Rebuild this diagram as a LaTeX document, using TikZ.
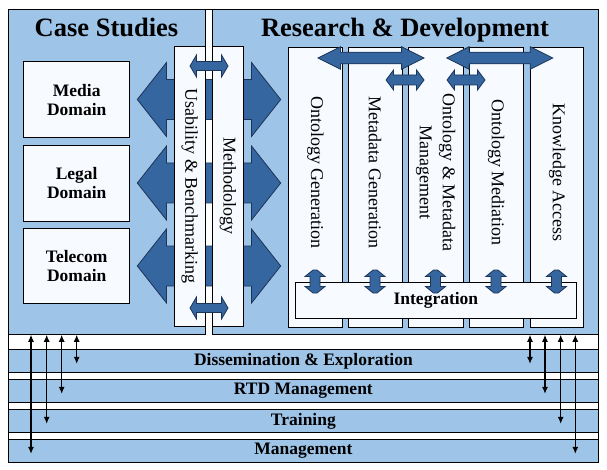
\documentclass[tikz,border=0pt]{standalone}
\usepackage{fontspec}
\setmainfont{Liberation Serif}
\usepackage{xcolor}
\usepackage{tikz}
\usetikzlibrary{positioning,arrows.meta,calc}

\definecolor{panelblue}{RGB}{158,196,232}
\definecolor{arrowblue}{RGB}{53,102,160}
\definecolor{arrowline}{RGB}{28,52,86}
\definecolor{boxwhite}{RGB}{247,250,255}

\begin{document}
\begin{tikzpicture}[x=1pt,y=1pt,yscale=-1,xscale=1,
  panel/.style={draw=black, line width=0.8pt, fill=panelblue, anchor=north west, inner sep=0pt},
  wbox/.style={draw=black, line width=0.8pt, fill=boxwhite, anchor=north west, inner sep=0pt},
  barrow/.style={draw=arrowline, line width=0.8pt, fill=arrowblue, line join=miter},
  link/.style={line width=1.1pt, {Latex[length=7pt,width=6pt]}-{Latex[length=7pt,width=6pt]}},
  title/.style={font=\fontsize{26.5}{30}\selectfont\bfseries, inner sep=0pt},
  lbl/.style={font=\fontsize{17.5}{19}\selectfont\bfseries, align=center},
  vlbl/.style={font=\fontsize{18}{23}\selectfont, align=center, rotate=-90, inner sep=0pt}]
\useasboundingbox (0,0) rectangle (607,470);

%Frame
\draw [line width=0.8pt, fill=white] (8,9) rectangle (598,462) ;

%Panels
\node [panel, minimum width=197, minimum height=325] (cs) at (8,9) {};
\node [panel, minimum width=386, minimum height=325] (rd) at (212,9) {};

%Bands
\node [panel, lbl, minimum width=590, minimum height=23] (dis) at (8,349) {Dissemination \& Exploration};
\node [panel, lbl, minimum width=590, minimum height=23] (rtd) at (8,379) {RTD Management};
\node [panel, lbl, minimum width=590, minimum height=23] (trn) at (8,409) {Training};
\node [panel, lbl, minimum width=590, minimum height=23] (mgt) at (8,439) {Management};

% Titles
\node [title, anchor=base] (cstitle) at (106.5,37) {Case Studies};
\node [title, anchor=base] (rdtitle) at (405,37) {Research \& Development};

%Domain boxes
\node [wbox, lbl, minimum width=106, minimum height=76.3] (media) at (23.3,61) {Media\\Domain};
\node [wbox, lbl, minimum width=106, minimum height=75.7] (legal) at (23.3,145) {Legal\\Domain};
\node [wbox, lbl, minimum width=106, minimum height=75] (telecom) at (23.3,228.3) {Telecom\\Domain};

%Big double arrows
\draw [barrow, shift={(209,99.5)}] (-71.7,0) -- (-42.5,-37) -- (-42.5,-20) -- (42.5,-20) -- (42.5,-37) -- (71.7,0) -- (42.5,37) -- (42.5,20) -- (-42.5,20) -- (-42.5,37) -- cycle ;
\draw [barrow, shift={(209,183)}] (-71.7,0) -- (-42.5,-37) -- (-42.5,-20) -- (42.5,-20) -- (42.5,-37) -- (71.7,0) -- (42.5,37) -- (42.5,20) -- (-42.5,20) -- (-42.5,37) -- cycle ;
\draw [barrow, shift={(209,266)}] (-71.7,0) -- (-42.5,-37) -- (-42.5,-20) -- (42.5,-20) -- (42.5,-37) -- (71.7,0) -- (42.5,37) -- (42.5,20) -- (-42.5,20) -- (-42.5,37) -- cycle ;

%Middle columns
\node [wbox, vlbl, minimum height=30.7, minimum width=279.3, anchor=center] (usab) at (189.65,186.35) {Usability \& Benchmarking};
\node [wbox, vlbl, minimum height=31, minimum width=279.3, anchor=center] (meth) at (227.8,186.35) {Methodology};

%Small middle arrows
\draw [barrow, shift={(209,66)}] (-19,0) -- (-12.5,-11) -- (-12.5,-4.5) -- (12.5,-4.5) -- (12.5,-11) -- (19,0) -- (12.5,11) -- (12.5,4.5) -- (-12.5,4.5) -- (-12.5,11) -- cycle ;
\draw [barrow, shift={(209,308)}] (-19,0) -- (-12.5,-11) -- (-12.5,-4.5) -- (12.5,-4.5) -- (12.5,-11) -- (19,0) -- (12.5,11) -- (12.5,4.5) -- (-12.5,4.5) -- (-12.5,11) -- cycle ;

%R&D columns
\node [wbox, minimum width=54, minimum height=279.8] (og) at (288,46.7) {};
\node [wbox, minimum width=53.5, minimum height=279.8] (mg) at (348,46.7) {};
\node [wbox, minimum width=54.5, minimum height=279.8] (omm) at (408,46.7) {};
\node [wbox, minimum width=53.5, minimum height=279.8] (om) at (469,46.7) {};
\node [wbox, minimum width=53.3, minimum height=279.8] (ka) at (530,46.7) {};

% Text Node
\node [vlbl] (ogt) at ($(og.north)+(0,126)$) {Ontology Generation};
\node [vlbl] (mgt2) at ($(mg.north)+(0,126)$) {Metadata Generation};
\node [vlbl] (ommt) at ($(omm.north)+(0,126)$) {Ontology \& Metadata\\Management};
\node [vlbl] (omt) at ($(om.north)+(0,126)$) {Ontology Mediation};
\node [vlbl] (kat) at ($(ka.north)+(0,126)$) {Knowledge Access};

%Integration
\node [wbox, lbl, minimum width=281, minimum height=36.3] (integ) at (295,282) {Integration};

%R&D arrows
\draw [barrow, shift={(371,58)}] (-53,0) -- (-30.5,-11.3) -- (-30.5,-5.8) -- (30.5,-5.8) -- (30.5,-11.3) -- (53,0) -- (30.5,11.3) -- (30.5,5.8) -- (-30.5,5.8) -- (-30.5,11.3) -- cycle ;
\draw [barrow, shift={(499.7,58)}] (-53,0) -- (-30.5,-11.3) -- (-30.5,-5.8) -- (30.5,-5.8) -- (30.5,-11.3) -- (53,0) -- (30.5,11.3) -- (30.5,5.8) -- (-30.5,5.8) -- (-30.5,11.3) -- cycle ;
\draw [barrow, shift={(405,80)}] (-19,0) -- (-11.5,-10) -- (-11.5,-5) -- (11.5,-5) -- (11.5,-10) -- (19,0) -- (11.5,10) -- (11.5,5) -- (-11.5,5) -- (-11.5,10) -- cycle ;
\draw [barrow, shift={(466,80)}] (-19,0) -- (-11.5,-10) -- (-11.5,-5) -- (11.5,-5) -- (11.5,-10) -- (19,0) -- (11.5,10) -- (11.5,5) -- (-11.5,5) -- (-11.5,10) -- cycle ;

%Integration arrows
\draw [barrow, shift={(315,281.5)}] (-2,-11.5) -- (2,-11.5) -- (10,-5) -- (5,-5) -- (5,5) -- (10,5) -- (2,11.5) -- (-2,11.5) -- (-10,5) -- (-5,5) -- (-5,-5) -- (-10,-5) -- cycle ;
\draw [barrow, shift={(375,281.5)}] (-2,-11.5) -- (2,-11.5) -- (10,-5) -- (5,-5) -- (5,5) -- (10,5) -- (2,11.5) -- (-2,11.5) -- (-10,5) -- (-5,5) -- (-5,-5) -- (-10,-5) -- cycle ;
\draw [barrow, shift={(435.5,281.5)}] (-2,-11.5) -- (2,-11.5) -- (10,-5) -- (5,-5) -- (5,5) -- (10,5) -- (2,11.5) -- (-2,11.5) -- (-10,5) -- (-5,5) -- (-5,-5) -- (-10,-5) -- cycle ;
\draw [barrow, shift={(496,281.5)}] (-2,-11.5) -- (2,-11.5) -- (10,-5) -- (5,-5) -- (5,5) -- (10,5) -- (2,11.5) -- (-2,11.5) -- (-10,5) -- (-5,5) -- (-5,-5) -- (-10,-5) -- cycle ;
\draw [barrow, shift={(556.5,281.5)}] (-2,-11.5) -- (2,-11.5) -- (10,-5) -- (5,-5) -- (5,5) -- (10,5) -- (2,11.5) -- (-2,11.5) -- (-10,5) -- (-5,5) -- (-5,-5) -- (-10,-5) -- cycle ;

%Links to bands
\draw [link] (cs.south -| 31,0) -- ($(mgt.south -| 31,0)+(0,-9)$) ;
\draw [link] (cs.south -| 46.7,0) -- ($(trn.south -| 46.7,0)+(0,-9)$) ;
\draw [link] (cs.south -| 61.7,0) -- ($(rtd.south -| 61.7,0)+(0,-9)$) ;
\draw [link] (cs.south -| 76.7,0) -- ($(dis.south -| 76.7,0)+(0,-9)$) ;
\draw [link] (rd.south -| 530,0) -- ($(dis.south -| 530,0)+(0,-9)$) ;
\draw [link] (rd.south -| 545,0) -- ($(rtd.south -| 545,0)+(0,-9)$) ;
\draw [link] (rd.south -| 560.7,0) -- ($(trn.south -| 560.7,0)+(0,-9)$) ;
\draw [link] (rd.south -| 575.3,0) -- ($(mgt.south -| 575.3,0)+(0,-9)$) ;
\end{tikzpicture}
\end{document}
